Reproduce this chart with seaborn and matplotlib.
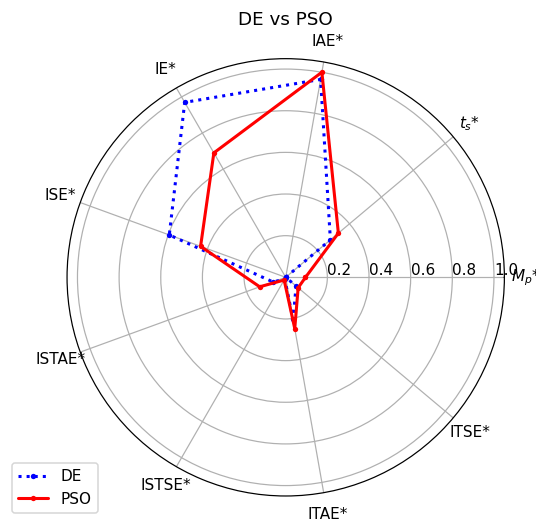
import numpy as np
import pandas as pd
import matplotlib
matplotlib.use("Agg")
import matplotlib.pyplot as plt
import seaborn as sns

# Normalised performance indices for the two optimisers
criteria = ["$M_p$*", "$t_s$*", "IAE*", "IE*", "ISE*", "ISTAE*", "ISTSE*", "ITAE*", "ITSE*"]
de_values = [0.0, 0.28, 0.965, 0.97, 0.595, 0.065, 0.01, 0.205, 0.065]
pso_values = [0.095, 0.33, 1.0, 0.69, 0.435, 0.133, 0.015, 0.25, 0.078]
r_ticks = [0.2, 0.4, 0.6, 0.8, 1.0]

sns.set_style("ticks", rc={"text.color": "black", "axes.labelcolor": "black",
                           "xtick.color": "black", "ytick.color": "black",
                           "axes.edgecolor": "black"})
plt.rcParams["font.family"] = ["DejaVu Sans"]

n = len(criteria)
angles = np.linspace(0, 2 * np.pi, n, endpoint=False)


def closed_frame(values):
    theta = np.append(angles, 2 * np.pi)
    r = np.append(values, values[0])
    return pd.DataFrame({"theta": theta, "r": r})


dpi = 110
fig = plt.figure(figsize=(536.4 / dpi, 519.4 / dpi), dpi=dpi)
ax = fig.add_axes([0.125, 0.0443, 0.8153, 0.842], projection="polar")

sns.lineplot(data=closed_frame(de_values), x="theta", y="r", ax=ax, sort=False,
             estimator=None, color="blue", linestyle=":", linewidth=2,
             marker="o", markersize=3.5, markeredgewidth=0, label="DE")
sns.lineplot(data=closed_frame(pso_values), x="theta", y="r", ax=ax, sort=False,
             estimator=None, color="red", linestyle="-", linewidth=2,
             marker="o", markersize=3.5, markeredgewidth=0, label="PSO")

ax.set_xlabel("")
ax.set_ylabel("")
ax.set_xticks(angles)
ax.set_xticklabels(criteria, fontsize=10, color="black")
ax.set_ylim(0, 1.05)
ax.set_yticks(r_ticks)
ax.set_yticklabels([f"{t:.1f}" for t in r_ticks], fontsize=10, color="black")
ax.set_rlabel_position(0)
ax.grid(True, color="#b0b0b0", linewidth=0.8)
ax.spines["polar"].set_color("black")
ax.set_title("DE vs PSO", fontsize=12, color="black")

ax.get_legend().remove()
handles, labels = ax.get_legend_handles_labels()
fig.legend(handles, labels, loc="lower left", bbox_to_anchor=(0.022, 0.012),
           borderaxespad=0, fontsize=10, frameon=True)

fig.savefig("out.png", dpi=dpi)
